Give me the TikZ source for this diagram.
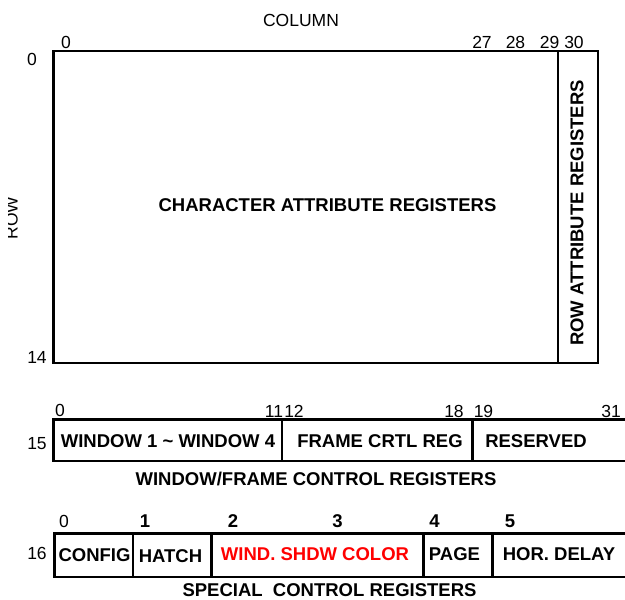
\documentclass[tikz,border=0pt]{standalone}
\usepackage{fontspec}
\setmainfont{Liberation Sans}
\begin{document}
\begin{tikzpicture}[x=1pt,y=-1pt,
  box/.style={line width=2.9pt},
  lbl/.style={inner sep=0pt, font=\fontsize{17.5}{20}\selectfont},
  reg/.style={inner sep=0pt, font=\bfseries\fontsize{18.5}{21}\selectfont},
  redreg/.style={reg, text={rgb,255:red,255;green,0;blue,0}}]
\useasboundingbox[fill=white] (0,0) rectangle (625,600);
% main area
\draw[box] (53.5,51) rectangle (598,363);
\draw[box] (558,51) -- (558,363);
\node[lbl] (col) at (301,20) {COLUMN};
\node[lbl] (c0) at (66,42) {0};
\node[lbl] (c27) at (482,42) {27};
\node[lbl] (c28) at (515.5,42) {28};
\node[lbl] (c29) at (549.5,42) {29};
\node[lbl] (c30) at (574,42) {30};
\node[lbl] (r0) at (32,59) {0};
\node[lbl] (r14) at (37,357) {14};
\begin{scope}
  \clip (8,150) rectangle (40,280);
  \node[lbl, rotate=90] (row) at (11.5,218) {ROW};
\end{scope}
\node[reg] (car) at (327.5,205.5) {CHARACTER ATTRIBUTE REGISTERS};
\node[reg, rotate=90] (rar) at (577,213) {ROW ATTRIBUTE REGISTERS};
% window/frame row
\draw[box] (640,419.5) -- (53.5,419.5) -- (53.5,461) -- (640,461);
\draw[box] (282,419.5) -- (282,461);
\draw[box] (472.5,419.5) -- (472.5,461);
\node[lbl] (w0) at (60,410.5) {0};
\node[lbl] (w11) at (274,411) {11};
\node[lbl] (w12) at (294,411) {12};
\node[lbl] (w18) at (454,411) {18};
\node[lbl] (w19) at (483.5,411) {19};
\node[lbl] (w31) at (611,411) {31};
\node[lbl] (r15) at (37,444) {15};
\node[reg] (win) at (168,441) {WINDOW 1 \textasciitilde{} WINDOW 4};
\node[reg] (frm) at (380,441) {FRAME CRTL REG};
\node[reg] (res) at (536,441) {RESERVED};
\node[reg] (wfc) at (316,479) {WINDOW/FRAME CONTROL REGISTERS};
% special row
\draw[box] (640,533.5) -- (54.5,533.5) -- (54.5,577) -- (640,577);
\draw[box] (133,533.5) -- (133,577);
\draw[box] (211.5,533.5) -- (211.5,577);
\draw[box] (423.5,533.5) -- (423.5,577);
\draw[box] (492.5,533.5) -- (492.5,577);
\node[lbl] (s0) at (64,521) {0};
\node[reg] (s1) at (145,521.5) {1};
\node[reg] (s2) at (233,521.5) {2};
\node[reg] (s3) at (337.5,521.5) {3};
\node[reg] (s4) at (434.5,521.5) {4};
\node[reg] (s5) at (510,521.5) {5};
\node[lbl] (r16) at (37,553.5) {16};
\node[reg] (cfg) at (94.5,555) {CONFIG};
\node[reg] (hat) at (170.5,556.5) {HATCH};
\node[redreg] (wsc) at (315,554.5) {WIND. SHDW COLOR};
\node[reg] (pag) at (454.5,554.5) {PAGE};
\node[reg] (hor) at (559,554.5) {HOR. DELAY};
\node[reg] (scr) at (329.5,590.5) {SPECIAL\ \ CONTROL REGISTERS};
\end{tikzpicture}
\end{document}
